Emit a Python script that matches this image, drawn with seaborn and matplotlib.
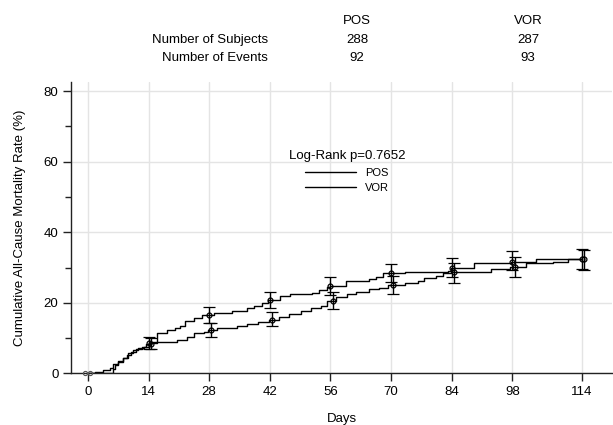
import numpy as np
import pandas as pd
import matplotlib
matplotlib.use("Agg")
import matplotlib.pyplot as plt
from matplotlib.ticker import MultipleLocator
import seaborn as sns

# Kaplan-Meier style cumulative mortality (event day, cumulative % after the event)
pos_days = [0, 5.8, 6.3, 7.0, 8.0, 9.2, 10.3, 11.5, 13.0, 14.0, 15.9, 18.2, 20.0, 21.3,
            22.4, 24.4, 26.3, 29.0, 33.2, 36.7, 38.3, 40.2, 41.6, 44.4, 46.7, 51.7,
            53.3, 55.2, 55.9, 59.6, 65.0, 66.5, 68.1, 73.1, 83.2, 83.8, 89.2, 97.7,
            103.5, 114.0]
pos_rate = [0, 1.2, 2.4, 3.3, 4.5, 5.7, 6.6, 7.1, 7.6, 8.5, 11.4, 12.2, 13.0, 13.5,
            14.9, 15.6, 16.6, 17.0, 17.8, 18.5, 19.1, 19.9, 20.8, 21.9, 22.5, 22.9,
            23.5, 24.4, 24.8, 26.3, 26.7, 27.4, 28.4, 28.8, 29.1, 29.8, 31.2, 31.7,
            32.4, 32.4]

vor_days = [0, 1.6, 3.5, 5.0, 5.8, 7.0, 8.0, 9.0, 10.0, 11.2, 12.5, 13.5, 14.5, 20.5,
            22.8, 24.4, 26.7, 27.8, 29.9, 34.5, 36.8, 39.2, 41.8, 44.2, 46.5, 49.2,
            51.5, 53.8, 55.3, 57.2, 59.9, 61.8, 64.9, 67.2, 69.2, 73.1, 76.2, 77.7,
            80.4, 81.9, 83.9, 93.0, 97.5, 101.2, 107.4, 110.8, 114.0]
vor_rate = [0, 0.5, 1.0, 1.4, 2.6, 3.5, 4.5, 5.2, 6.0, 6.9, 7.6, 8.3, 9.0, 9.6,
            10.4, 11.5, 11.8, 12.3, 12.8, 13.4, 14.0, 14.7, 15.1, 16.1, 16.8, 17.8,
            18.5, 19.1, 20.6, 21.6, 22.5, 23.2, 23.8, 24.3, 25.1, 25.5, 26.3, 27.0,
            27.6, 28.4, 28.8, 29.5, 30.1, 31.2, 31.7, 32.4, 32.4]

# 95% confidence limits at the scheduled visit days
ci_days = [14, 28, 42, 56, 70, 84, 98, 114]
pos_lo = [6.8, 14.2, 18.6, 22.3, 26.0, 27.2, 29.2, 29.6]
pos_hi = [10.4, 18.9, 23.2, 27.2, 31.0, 32.6, 34.6, 35.4]
vor_lo = [7.0, 10.4, 13.4, 18.2, 22.6, 25.7, 27.4, 29.4]
vor_hi = [10.0, 14.4, 17.5, 23.1, 27.6, 31.2, 32.9, 35.0]

groups = ["POS", "VOR"]
n_subjects = [288, 287]
n_events = [92, 93]
p_value = "0.7652"
x_ticks = [0, 14, 28, 42, 56, 70, 84, 98, 114]

sns.set_theme(style="white")
plt.rcParams["font.family"] = ["Liberation Sans", "DejaVu Sans"]
plt.rcParams["text.color"] = "black"
plt.rcParams["axes.labelcolor"] = "black"
plt.rcParams["xtick.color"] = "black"
plt.rcParams["ytick.color"] = "black"

curves = pd.concat([
    pd.DataFrame({"Days": pos_days, "Rate": pos_rate, "Group": "POS"}),
    pd.DataFrame({"Days": vor_days, "Rate": vor_rate, "Group": "VOR"}),
], ignore_index=True)

fig = plt.figure(figsize=(6.13, 4.25), dpi=100)
ax = fig.add_axes([71 / 613, 1 - 373.4 / 425, 541 / 613, (373.4 - 82) / 425])

sns.lineplot(data=curves, x="Days", y="Rate", hue="Group", hue_order=groups,
             palette=["black", "black"], estimator=None, sort=False,
             drawstyle="steps-post", linewidth=1.0, ax=ax)

# confidence intervals at each visit, centred on the step value
for days, rate, lo, hi, shift in [(pos_days, pos_rate, pos_lo, pos_hi, 0.0),
                                  (vor_days, vor_rate, vor_lo, vor_hi, 0.5)]:
    d = np.asarray(days)
    r = np.asarray(rate)
    idx = np.searchsorted(d, ci_days, side="right") - 1
    est = r[idx]
    err = np.vstack([est - np.asarray(lo), np.asarray(hi) - est])
    ax.errorbar(np.asarray(ci_days) + shift, est, yerr=err, fmt="o", ms=3.5,
                mfc="none", mec="black", mew=0.9, ecolor="black",
                elinewidth=1.0, capsize=4.5, capthick=1.0, zorder=4)

# censoring marks at the origin
ax.plot([-0.6, 0.6], [0, 0], "o", ms=3, mfc="none", mec="#555555", mew=0.8,
        clip_on=False, zorder=5)

ax.set_xlim(-3.9, 121)
ax.set_ylim(0, 82.6)
ax.set_xticks(x_ticks)
ax.yaxis.set_major_locator(MultipleLocator(20))
ax.yaxis.set_minor_locator(MultipleLocator(10))
ax.grid(True, which="major", color="#e4e4e4", linewidth=1.0)
ax.set_axisbelow(True)
for side in ["top", "right"]:
    ax.spines[side].set_visible(False)
for side in ["left", "bottom"]:
    ax.spines[side].set_color("#222222")
    ax.spines[side].set_linewidth(1.0)
ax.tick_params(axis="both", which="major", direction="out", length=6, width=1,
               color="#222222", labelsize=9.5, left=True, bottom=True, pad=3)
ax.tick_params(axis="y", which="minor", direction="out", length=4, width=1,
               color="#222222", left=True)
ax.set_xlabel("Days", fontsize=9.5, labelpad=11)
ax.set_ylabel("Cumulative All-Cause Mortality Rate (%)", fontsize=9.5, labelpad=13)

sns.move_legend(ax, loc="upper center", bbox_to_anchor=(347 / 613, 1 - 150 / 425),
                bbox_transform=fig.transFigure, title="Log-Rank p=" + p_value,
                frameon=False, fontsize=8, title_fontsize=9.5, handlelength=4.6,
                handletextpad=0.8, labelspacing=0.5, borderpad=0, borderaxespad=0)

# subject / event summary above the plot
col_x = [357 / 613, 528 / 613]
row_y = [1 - 21 / 425, 1 - 40 / 425, 1 - 58 / 425]
for gx, g, ns, ne in zip(col_x, groups, n_subjects, n_events):
    fig.text(gx, row_y[0], g, ha="center", va="center", fontsize=9.5)
    fig.text(gx, row_y[1], str(ns), ha="center", va="center", fontsize=9.5)
    fig.text(gx, row_y[2], str(ne), ha="center", va="center", fontsize=9.5)
fig.text(268 / 613, row_y[1], "Number of Subjects", ha="right", va="center", fontsize=9.5)
fig.text(268 / 613, row_y[2], "Number of Events", ha="right", va="center", fontsize=9.5)

fig.savefig("out.png", dpi=100)
